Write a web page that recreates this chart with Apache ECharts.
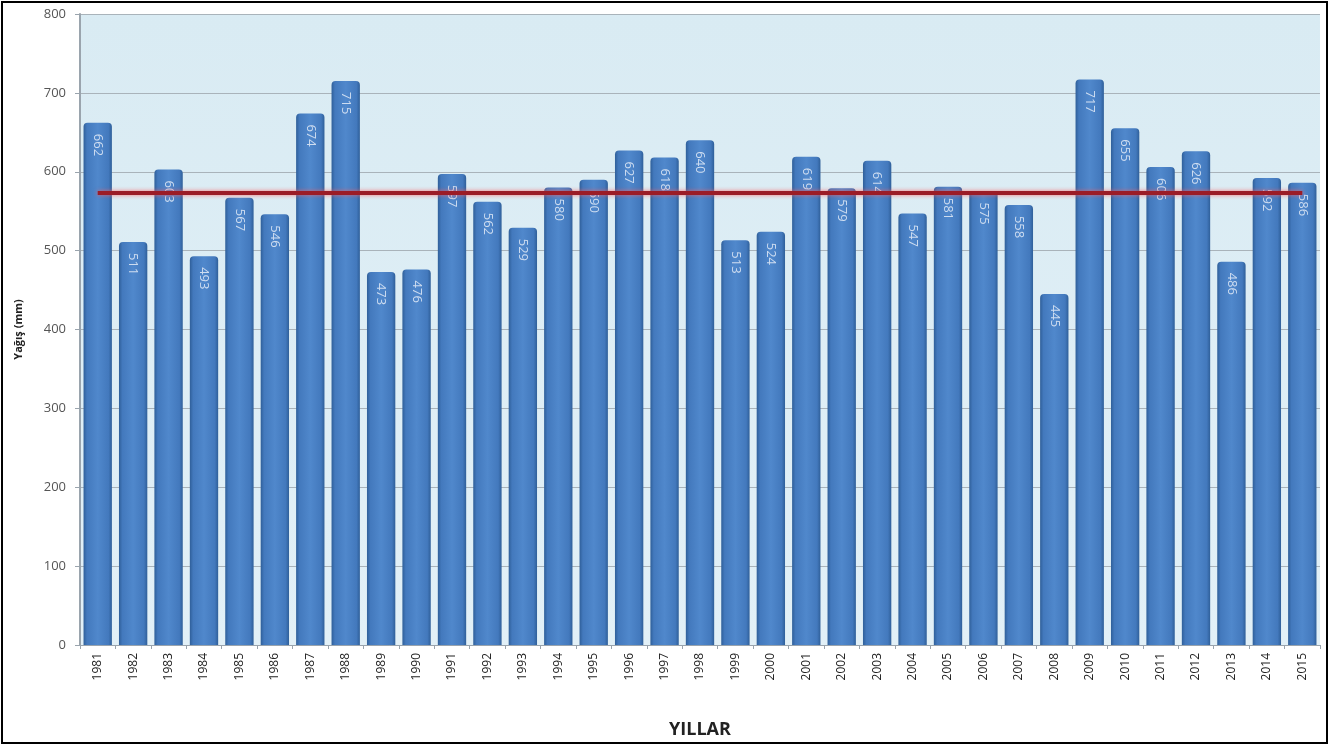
<!DOCTYPE html>
<html>
<head>
<meta charset="utf-8">
<script src="https://cdn.jsdelivr.net/npm/echarts@6/dist/echarts.min.js"></script>
<style>
html,body{margin:0;padding:0;background:#fff;}
#chart{width:1339px;height:747px;}
</style>
</head>
<body>
<div id="chart"></div>
<script>
const years = ['1981','1982','1983','1984','1985','1986','1987','1988','1989','1990','1991','1992','1993','1994','1995','1996','1997','1998','1999','2000','2001','2002','2003','2004','2005','2006','2007','2008','2009','2010','2011','2012','2013','2014','2015'];
const rainfall = [662,511,603,493,567,546,674,715,473,476,597,562,529,580,590,627,618,640,513,524,619,579,614,547,581,575,558,445,717,655,606,626,486,592,586];
const averageRainfall = 574;
const yTicks = [0,100,200,300,400,500,600,700,800];

const chart = echarts.init(document.getElementById('chart'));
chart.setOption({
  animation: false,
  backgroundColor: '#ffffff',
  graphic: [{
    type: 'rect',
    shape: {x: 2, y: 2, width: 1325, height: 741},
    style: {fill: 'none', stroke: '#000', lineWidth: 2},
    z: 100
  }],
  grid: {
    left: 80, right: 19, top: 14, bottom: 102,
    show: true,
    backgroundColor: new echarts.graphic.LinearGradient(0,0,0,1,[
      {offset:0,color:'#d9ebf3'},{offset:1,color:'#e2f0f7'}
    ]),
    borderWidth: 0
  },
  xAxis: {
    type: 'category',
    data: years,
    name: 'YILLAR',
    nameLocation: 'middle',
    nameGap: 76,
    nameTextStyle: {fontFamily: 'Open Sans', fontWeight: 'bold', fontSize: 18, color: '#222'},
    axisLine: {lineStyle: {color: '#9aa4ad', width: 1}},
    axisTick: {show: true, alignWithLabel: false, length: 4, lineStyle: {color: '#9aa4ad'}},
    axisLabel: {rotate: 90, fontFamily: 'Open Sans', fontSize: 12, color: '#222', margin: 8, interval: 0}
  },
  yAxis: {
    type: 'value',
    min: yTicks[0], max: yTicks[yTicks.length-1], interval: 100,
    name: 'Yağış (mm)',
    nameLocation: 'middle',
    nameGap: 56,
    nameRotate: 90,
    nameTextStyle: {fontFamily: 'Open Sans', fontWeight: 'bold', fontSize: 11, color: '#222'},
    axisLine: {show: true, lineStyle: {color: '#9aa4ad', width: 2}},
    axisTick: {show: true, length: 5, lineStyle: {color: '#9aa4ad'}},
    axisLabel: {fontFamily: 'Open Sans', fontSize: 13, color: '#555', margin: 14},
    splitLine: {lineStyle: {color: '#a9b3ba', width: 1}}
  },
  series: [{
    type: 'bar',
    data: rainfall,
    barCategoryGap: '20%',
    itemStyle: {
      color: new echarts.graphic.LinearGradient(0,0,1,0,[
        {offset:0,color:'#2f5f99'},
        {offset:0.12,color:'#4379bd'},
        {offset:0.5,color:'#5088cc'},
        {offset:0.88,color:'#4379bd'},
        {offset:1,color:'#2f5f99'}
      ]),
      borderRadius: [4,4,0,0]
    },
    label: {
      show: true,
      position: 'insideTop',
      distance: 11,
      rotate: -90,
      align: 'left',
      verticalAlign: 'middle',
      color: '#cddcf0',
      fontFamily: 'Open Sans',
      fontSize: 13
    },
    markLine: {
      symbol: 'none',
      silent: true,
      label: {show: false},
      lineStyle: {color: '#9b1c27', width: 4, type: 'solid', shadowColor: 'rgba(255,90,90,0.8)', shadowBlur: 4},
      data: [[{coord: [years[0], averageRainfall]}, {coord: [years[years.length-1], averageRainfall]}]]
    }
  }]
});
</script>
</body>
</html>
